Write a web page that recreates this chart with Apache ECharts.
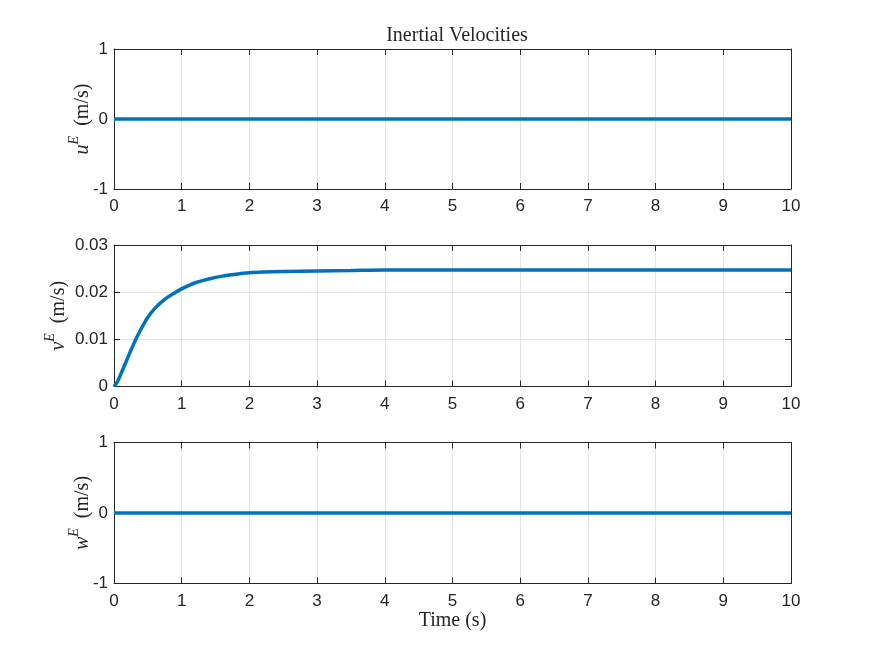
<!DOCTYPE html>
<html>
<head>
<meta charset="utf-8">
<script src="https://cdn.jsdelivr.net/npm/echarts@6/dist/echarts.min.js"></script>
<style>
  html, body {margin: 0; padding: 0; background: #fff;}
  #chart {width: 875px; height: 656px;}
</style>
</head>
<body>
<div id="chart"></div>
<script>
// values
const uTime = [0, 10];
const uValues = [0, 0];
const vTime = [0, 0.05, 0.1, 0.15, 0.2, 0.25, 0.3, 0.35, 0.4, 0.45, 0.5, 0.6, 0.7, 0.8, 0.9, 1.0,
  1.1, 1.2, 1.4, 1.6, 1.8, 2.0, 2.2, 2.5, 3.0, 3.5, 4, 5, 6, 7, 8, 9, 10];
const vValues = [0, 0.0010, 0.0026, 0.0043, 0.0060, 0.0077, 0.0093, 0.0108, 0.0122, 0.0135, 0.0147,
  0.0165, 0.0179, 0.0190, 0.0199, 0.0207, 0.0214, 0.0220, 0.0228, 0.0234, 0.0238, 0.0241, 0.02425,
  0.02438, 0.0245, 0.0246, 0.0247, 0.0247, 0.0247, 0.0247, 0.0247, 0.0247, 0.0247];
const wTime = [0, 10];
const wValues = [0, 0];
const yLabels = ["u", "v", "w"];

const LINE_COLOR = "#0072BD";
const AXIS_COLOR = "#262626";
const GRID_COLOR = "#e3e3e3";
const SANS = "Liberation Sans, Arial, sans-serif";
const SERIF = "Liberation Serif, DejaVu Serif, serif";

const grids = [
  {left: 114, right: 84, top: 49, height: 140},
  {left: 114, right: 84, top: 245, height: 141.5},
  {left: 114, right: 84, top: 442.5, height: 141},
].map(g => ({...g, show: true, borderWidth: 0, backgroundColor: "#fff"}));

const yRanges = [
  {min: -1, max: 1, interval: 1},
  {min: 0, max: 0.03, interval: 0.01},
  {min: -1, max: 1, interval: 1},
];
// y labels sit clear of the tick labels, which are wider in the middle panel
const yNameGaps = [21, 45, 21];

function fmt(v) {
  return String(parseFloat(v.toFixed(4)));
}

const frameLine = {show: true, onZero: false, lineStyle: {color: AXIS_COLOR, width: 1}};
const frameTick = {show: true, inside: true, length: 6, lineStyle: {color: AXIS_COLOR}};

const xAxes = [];
const yAxes = [];
grids.forEach((g, i) => {
  xAxes.push({
    type: "value", gridIndex: i, min: 0, max: 10, interval: 1, position: "bottom",
    axisLine: frameLine,
    axisTick: frameTick,
    axisLabel: {color: AXIS_COLOR, fontFamily: SANS, fontSize: 17, margin: 9, formatter: fmt},
    splitLine: {show: true, lineStyle: {color: GRID_COLOR}},
    name: i === 2 ? "Time (s)" : "",
    nameLocation: "middle", nameGap: 27, nameMoveOverlap: false,
    nameTextStyle: {fontFamily: SERIF, fontSize: 20, color: AXIS_COLOR},
  });
  xAxes.push({
    type: "value", gridIndex: i, min: 0, max: 10, interval: 1, position: "top",
    axisLine: frameLine,
    axisTick: frameTick,
    axisLabel: {show: false}, splitLine: {show: false},
  });
  yAxes.push({
    type: "value", gridIndex: i, ...yRanges[i], position: "left",
    axisLine: frameLine,
    axisTick: frameTick,
    axisLabel: {color: AXIS_COLOR, fontFamily: SANS, fontSize: 17, margin: 6, formatter: fmt},
    splitLine: {show: true, lineStyle: {color: GRID_COLOR}},
    name: `{i|${yLabels[i]}}{s|E}{n|  (m/s)}`,
    nameLocation: "middle", nameGap: yNameGaps[i], nameRotate: 90, nameMoveOverlap: false,
    nameTextStyle: {
      color: AXIS_COLOR,
      rich: {
        i: {fontFamily: SERIF, fontSize: 20, fontStyle: "italic", color: AXIS_COLOR, lineHeight: 26, verticalAlign: "bottom"},
        s: {fontFamily: SERIF, fontSize: 14, fontStyle: "italic", color: AXIS_COLOR, verticalAlign: "top"},
        n: {fontFamily: SERIF, fontSize: 20, color: AXIS_COLOR, lineHeight: 26, verticalAlign: "bottom"},
      },
    },
  });
  yAxes.push({
    type: "value", gridIndex: i, ...yRanges[i], position: "right",
    axisLine: frameLine,
    axisTick: frameTick,
    axisLabel: {show: false}, splitLine: {show: false},
  });
});

const zip = (xs, ys) => xs.map((x, k) => [x, ys[k]]);
const seriesData = [zip(uTime, uValues), zip(vTime, vValues), zip(wTime, wValues)];

const chart = echarts.init(document.getElementById("chart"));
chart.setOption({
  animation: false,
  backgroundColor: "#fff",
  title: {
    text: "Inertial Velocities",
    left: 452, top: 21, textAlign: "center",
    textStyle: {fontFamily: SERIF, fontSize: 20, fontWeight: "normal", color: AXIS_COLOR},
  },
  grid: grids,
  xAxis: xAxes,
  yAxis: yAxes,
  series: seriesData.map((data, i) => ({
    type: "line",
    xAxisIndex: i * 2,
    yAxisIndex: i * 2,
    data,
    smooth: 0.3,
    showSymbol: false,
    z: 3,
    lineStyle: {color: LINE_COLOR, width: 3.5},
  })),
});
</script>
</body>
</html>
